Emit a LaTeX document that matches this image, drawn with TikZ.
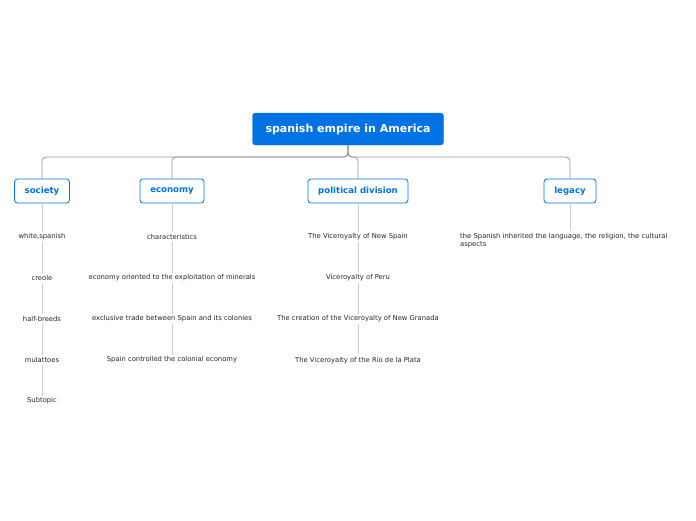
\documentclass[tikz,border=0pt]{standalone}
\usepackage{fontspec}
\setmainfont{DejaVu Sans}
\definecolor{mainblue}{RGB}{0,114,227}
\definecolor{linegray}{RGB}{150,150,150}
\definecolor{leafgray}{RGB}{205,205,205}
\tikzset{
  rootbox/.style={draw=mainblue, fill=mainblue, rounded corners=3pt, text=white,
    font=\bfseries\fontsize{11}{13}\selectfont, minimum width=191pt, minimum height=32pt},
  topicbox/.style={draw=mainblue, fill=white, rounded corners=3pt, text=mainblue, thick,
    font=\bfseries\fontsize{8.6}{10}\selectfont, minimum height=24pt, inner xsep=2pt},
  leaf/.style={font=\fontsize{6.8}{8.5}\selectfont, text=black!85, inner sep=2pt},
  branch/.style={draw=linegray, thick, rounded corners=4pt},
  twig/.style={draw=leafgray}
}
\begin{document}
\begin{tikzpicture}[x=1pt,y=-1pt]
\useasboundingbox (0,0) rectangle (696,520);

\node[rootbox] (root) at (348,129) {spanish empire in America};

\node[topicbox, minimum width=55pt] (society) at (42,191) {society};
\node[topicbox, minimum width=64pt] (economy) at (172,191) {economy};
\node[topicbox, minimum width=100pt] (political) at (358,191) {political division};
\node[topicbox, minimum width=52pt] (legacy) at (570,191) {legacy};

\coordinate (hub) at (348,157);
\foreach \t in {society,economy,political,legacy}
  \draw[branch] (root.south) -- (hub) -| (\t.north);

% society
\node[leaf] (s1) at (42,237) {white,spanish};
\node[leaf] (s2) at (42,278) {creole};
\node[leaf] (s3) at (42,319) {half-breeds};
\node[leaf] (s4) at (42,360) {mulattoes};
\node[leaf] (s5) at (42,401) {Subtopic};
\draw[twig] (society.south) -- (s1.north);
\draw[twig] (s1.south) -- (s2.north);
\draw[twig] (s2.south) -- (s3.north);
\draw[twig] (s3.south) -- (s4.north);
\draw[twig] (s4.south) -- (s5.north);

% economy
\node[leaf] (e1) at (172,237) {characteristics};
\node[leaf] (e2) at (172,278) {economy oriented to the exploitation of minerals};
\node[leaf] (e3) at (172,319) {exclusive trade between Spain and its colonies};
\node[leaf] (e4) at (172,360) {Spain controlled the colonial economy};
\draw[twig] (economy.south) -- (e1.north);
\draw[twig] (e1.south) -- (e2.north);
\draw[twig] (e2.south) -- (e3.north);
\draw[twig] (e3.south) -- (e4.north);

% political division
\node[leaf] (p1) at (358,237) {The Viceroyalty of New Spain};
\node[leaf] (p2) at (358,278) {Viceroyalty of Peru};
\node[leaf] (p3) at (358,319) {The creation of the Viceroyalty of New Granada};
\node[leaf] (p4) at (358,360) {The Viceroyalty of the Río de la Plata};
\draw[twig] (political.south) -- (p1.north);
\draw[twig] (p1.south) -- (p2.north);
\draw[twig] (p2.south) -- (p3.north);
\draw[twig] (p3.south) -- (p4.north);

% legacy
\node[leaf, anchor=north west, text width=212pt, align=left] (l1) at (458,231)
  {the Spanish inherited the language, the religion, the cultural aspects};
\draw[twig] (legacy.south) -- (570,230);

\end{tikzpicture}
\end{document}
